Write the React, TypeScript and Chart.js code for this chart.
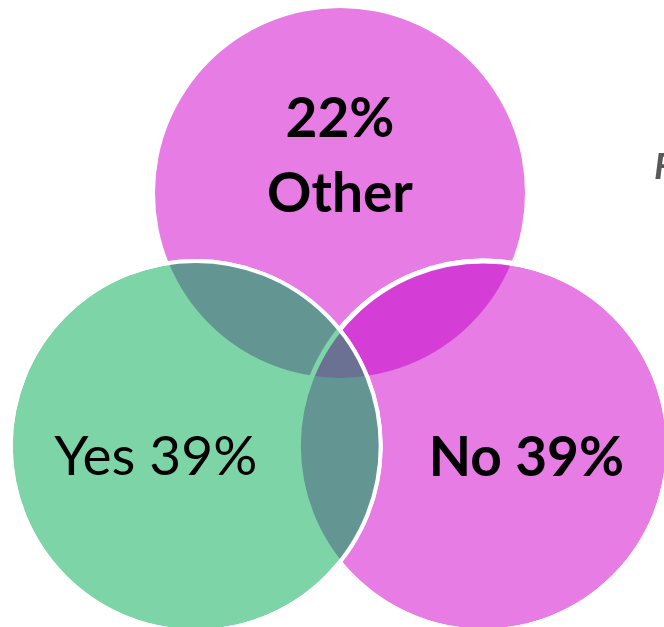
import React, { useEffect, useRef } from 'react';
import { Chart, registerables } from 'chart.js';

Chart.register(...registerables);

// ---- data ----
const CATEGORIES = ['Other', 'No', 'Yes'];
const PERCENTS = [22, 39, 39];

// ---- layout (Venn geometry in axis units; 1 unit = circle radius) ----
const CENTER_X = [0, 0.775, -0.78];
const CENTER_Y = [1.368, 0, 0];
const X_RANGE = [-1.8378, 1.7514];
const Y_RANGE = [-0.9784, 2.4108];
const RADIUS_PX = 185;

// ---- styles ----
const PINK = '#E77CE5';
const GREEN = '#7DD5A7';
const MAGENTA = '#D53ED6';
const TEAL = '#639692';
const TRIPLE = '#6A7192';
const FONT = 'Lato, "Open Sans", sans-serif';

type Circ = { x: number; y: number; r: number };

const vennPlugin = {
  id: 'venn',
  afterDatasetDraw(chart: any, args: any) {
    const ctx: CanvasRenderingContext2D = chart.ctx;
    const circ = (i: number): Circ => {
      const e: any = chart.getDatasetMeta(i).data[0];
      return { x: e.x, y: e.y, r: e.options.radius };
    };
    const path = (c: Circ) => {
      ctx.beginPath();
      ctx.arc(c.x, c.y, c.r, 0, Math.PI * 2);
    };
    const clipTo = (...cs: Circ[]) => cs.forEach((c) => { path(c); ctx.clip(); });
    const fillAll = (color: string) => {
      ctx.fillStyle = color;
      ctx.fillRect(0, 0, chart.width, chart.height);
    };
    if (args.index === 1) {
      const T = circ(0), R = circ(1);
      ctx.save(); clipTo(T, R); fillAll(MAGENTA); ctx.restore();
      ctx.save(); path(R); ctx.strokeStyle = '#ffffff'; ctx.lineWidth = 5; ctx.stroke(); ctx.restore();
    }
    if (args.index === 2) {
      const T = circ(0), R = circ(1), G = circ(2);
      ctx.save(); clipTo(G, T); fillAll(TEAL); ctx.restore();
      ctx.save(); clipTo(G, R); fillAll(TEAL); ctx.restore();
      ctx.save(); clipTo(G, T, R); fillAll(TRIPLE); ctx.restore();
      ctx.save(); clipTo(G); path(R); ctx.strokeStyle = GREEN; ctx.lineWidth = 5; ctx.stroke(); ctx.restore();
      ctx.save(); path(G); ctx.strokeStyle = '#ffffff'; ctx.lineWidth = 4; ctx.stroke(); ctx.restore();
    }
  },
  afterDraw(chart: any) {
    const ctx: CanvasRenderingContext2D = chart.ctx;
    const e = (i: number): any => chart.getDatasetMeta(i).data[0];
    ctx.save();
    ctx.fillStyle = '#000000';
    ctx.textAlign = 'center';
    ctx.textBaseline = 'alphabetic';
    const t = e(0);
    ctx.font = `bold 55px ${FONT}`;
    ctx.fillText(`${PERCENTS[0]}%`, t.x, t.y - 56);
    ctx.fillText(CATEGORIES[0], t.x, t.y + 19);
    const n = e(1);
    ctx.font = `bold 55px ${FONT}`;
    ctx.fillText(`${CATEGORIES[1]} ${PERCENTS[1]}%`, n.x + 43, n.y + 30);
    const y = e(2);
    ctx.font = `55px ${FONT}`;
    ctx.fillText(`${CATEGORIES[2]} ${PERCENTS[2]}%`, y.x - 40, y.y + 29);
    ctx.textAlign = 'left';
    ctx.fillStyle = '#595959';
    ctx.font = `italic bold 37px ${FONT}`;
    ctx.fillText('F', 654, 179);
    ctx.restore();
  },
};

export default function App() {
  const ref = useRef<HTMLCanvasElement | null>(null);
  useEffect(() => {
    if (!ref.current) return;
    const chart = new Chart(ref.current, {
      type: 'bubble',
      data: {
        datasets: CATEGORIES.map((cat, i) => ({
          label: cat,
          data: [{ x: CENTER_X[i], y: CENTER_Y[i] }],
          backgroundColor: i === 2 ? GREEN : PINK,
          borderColor: '#ffffff',
          borderWidth: i === 0 ? 0 : i === 1 ? 5 : 4,
          radius: RADIUS_PX,
          hoverRadius: 0,
          order: 2 - i,
          clip: false as any,
        })),
      },
      options: {
        responsive: false,
        animation: false,
        devicePixelRatio: 1,
        events: [],
        layout: { padding: 0, autoPadding: false },
        plugins: { legend: { display: false }, tooltip: { enabled: false } },
        scales: {
          x: { type: 'linear', min: X_RANGE[0], max: X_RANGE[1], display: false },
          y: { type: 'linear', min: Y_RANGE[0], max: Y_RANGE[1], display: false },
        },
      },
      plugins: [vennPlugin],
    });
    return () => chart.destroy();
  }, []);
  return (
    <div style={{ position: 'fixed', left: 0, top: 0, width: 664, height: 627, background: '#ffffff' }}>
      <canvas ref={ref} width={664} height={627} />
    </div>
  );
}
